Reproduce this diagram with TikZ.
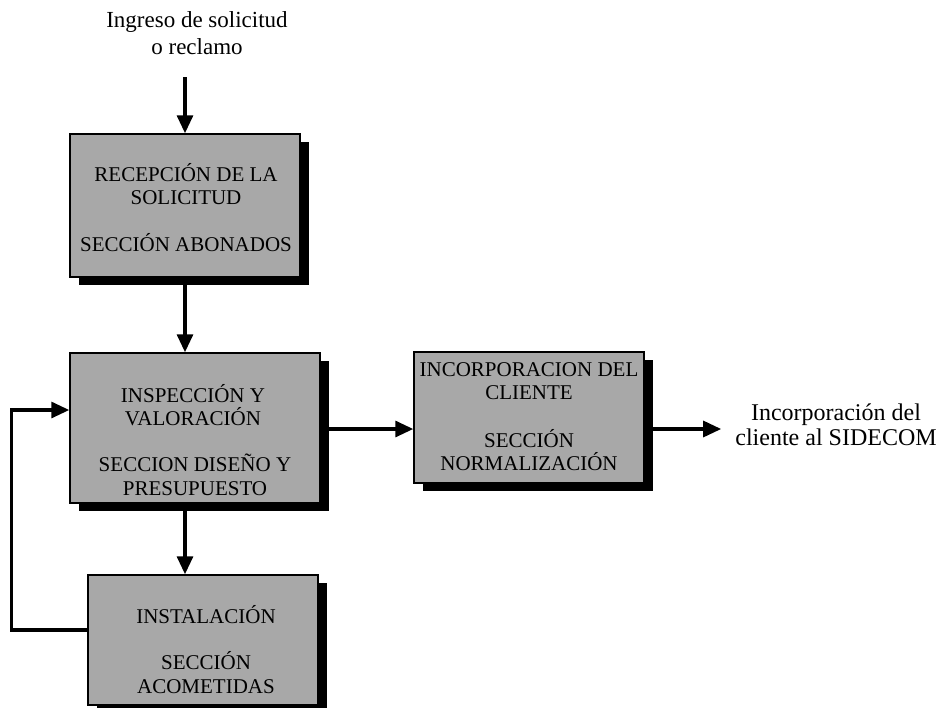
\documentclass[tikz,border=0pt]{standalone}
\usepackage{fontspec}
\setmainfont{Liberation Serif}
\usetikzlibrary{arrows.meta,shadows}

\tikzset{
  procbox/.style={draw=black, line width=1.5pt, fill=black!34,
    minimum width=#1, inner sep=0pt,
    drop shadow={shadow xshift=9pt, shadow yshift=-8pt, fill=black, opacity=1}},
  boxtext/.style={align=center, inner sep=0pt,
    font=\fontsize{21}{23.5}\selectfont},
  plaintext/.style={align=center, inner sep=2pt,
    font=\fontsize{23}{27}\selectfont},
  flow/.style={line width=3.2pt,
    -{Triangle[width=16pt,length=18pt]}},
}

\begin{document}
\begin{tikzpicture}[x=1pt,y=-1pt]
\useasboundingbox (0,0) rectangle (944,707);
\clip (0,0) rectangle (944,707);

% process boxes
\node[procbox=230pt, minimum height=143pt] (b1) at (185,205.5) {};
\node[procbox=250pt, minimum height=150pt] (b2) at (195,428) {};
\node[procbox=230pt, minimum height=131pt] (b3) at (529,417.5) {};
\node[procbox=230pt, minimum height=130pt] (b4) at (203,640) {};

% box labels
\node[boxtext] (t1a) at (186,184) {RECEPCIÓN DE LA\\SOLICITUD};
\node[boxtext] (t1b) at (186,243) {SECCIÓN ABONADOS};
\node[boxtext] (t2a) at (193,405) {INSPECCIÓN Y\\VALORACIÓN};
\node[boxtext] (t2b) at (195,475) {SECCION DISEÑO Y\\PRESUPUESTO};
\node[boxtext] (t3a) at (529,381) {INCORPORACION DEL\\CLIENTE};
\node[boxtext] (t3b) at (529,450) {SECCIÓN\\NORMALIZACIÓN};
\node[boxtext] (t4a) at (206,615) {INSTALACIÓN};
\node[boxtext] (t4b) at (206,672.5) {SECCIÓN\\ACOMETIDAS};

% input and output texts
\node[plaintext] (in) at (197,33) {Ingreso de solicitud\\o reclamo};
\node[plaintext, font=\fontsize{24}{25}\selectfont] (out) at (836,425)
  {Incorporación del\\cliente al SIDECOM};
\coordinate (start) at (185,77);

% connectors
\draw[flow] (start) -- (start |- b1.north);
\draw[flow] (b1.south) -- (b1.south |- b2.north);
\draw[flow] ([yshift=-1pt]b2.east) -- ([yshift=-1pt]b2.east -| b3.west);
\draw[flow] ([yshift=-1pt]b2.east -| b3.east) -- ([xshift=-12pt,yshift=-1pt]b2.east -| out.west);
\draw[flow] (b2.south -| b1.south) -- (b1.south |- b4.north);
\draw[flow] ([yshift=10pt]b4.west) -- ++(-76,0) |- ([yshift=18pt]b2.west);
\end{tikzpicture}
\end{document}
